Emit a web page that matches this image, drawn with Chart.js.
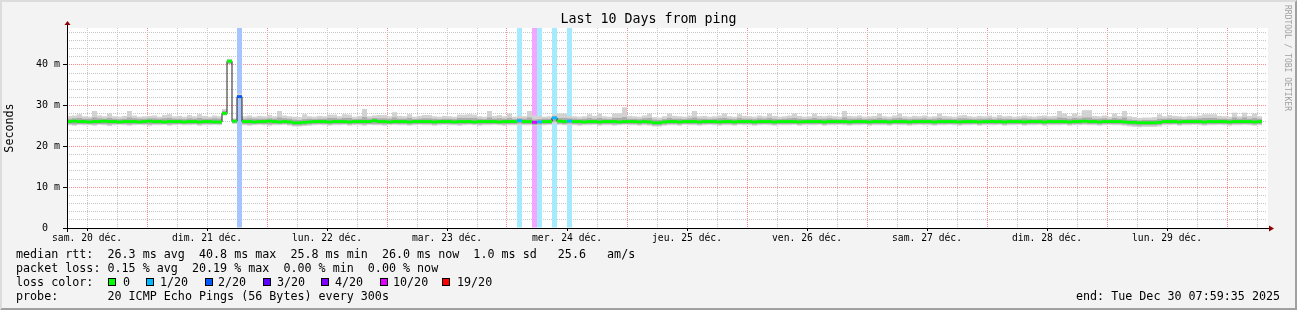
<!DOCTYPE html>
<html>
<head>
<meta charset="utf-8">
<script src="https://cdn.jsdelivr.net/npm/chart.js@4.4.1/dist/chart.umd.min.js"></script>
<style>
  html, body { margin:0; padding:0; background:#f3f3f3; }
  #wrap { position:relative; width:1297px; height:310px; overflow:hidden; }
  #bg { position:absolute; left:0; top:0; width:1297px; height:310px; box-sizing:border-box; background:#f3f3f3;
        border-top:2px solid #dcdcdc; border-left:2px solid #dcdcdc; border-right:2px solid #a0a0a0; border-bottom:2px solid #a0a0a0; }
  canvas { position:absolute; left:0; top:0; }
  .t { position:absolute; font-family:'DejaVu Sans Mono', monospace; font-size:11.7px; line-height:14px; white-space:pre; color:#000; }
  .box { position:absolute; width:6px; height:6px; border:1px solid #000; }
  #title { position:absolute; left:0; top:11px; width:1297px; text-align:center; font-family:'DejaVu Sans Mono', monospace; font-size:13.3px; line-height:16px; }
  #side { position:absolute; left:1282px; top:5px; writing-mode:vertical-rl; font-family:'DejaVu Sans Mono', monospace; font-size:8px; line-height:10px; color:#a0a0a0; white-space:pre; }
</style>
</head>
<body>
<div id="wrap">
  <div id="bg"></div>
  <canvas id="myChart" width="1297" height="310"></canvas>
  <div id="title">Last 10 Days from ping</div>
  <div id="side">RRDTOOL / TOBI OETIKER</div>
  <div id="legend"></div>
</div>
<script>
// hourly values, hour 0 = Sat 20 Dec 08:00, hour 239 = last (incomplete) hour
const median = [
  26.1,26.2,26.1,26.1,26.0,26.1,26.1,26.2,26.1,26.1,26.0,26.1,26.1,26.1,26.0,26.1,26.2,26.1,26.1,26.0,26.1,26.1,26.1,26.0,
  26.1,26.1,26.0,26.1,26.1,26.0,26.0,28.1,40.9,26.2,32.2,26.1,26.1,26.0,26.1,26.1,26.2,26.1,26.0,26.1,26.0,25.8,25.8,25.9,
  26.0,26.1,26.1,26.1,26.0,26.1,26.1,26.1,26.0,26.1,26.1,26.1,26.1,26.3,26.1,26.1,26.0,26.1,26.1,26.1,26.0,26.1,26.1,26.1,
  26.1,26.0,26.1,26.1,26.1,26.0,26.1,26.1,26.1,26.0,26.1,26.1,26.1,26.1,26.0,26.1,26.1,26.1,26.3,26.1,26.1,25.9,26.0,26.1,
  26.1,27.0,26.2,26.1,26.2,26.1,26.1,26.0,26.1,26.1,26.0,26.1,26.1,26.1,26.0,26.1,26.1,26.1,26.0,26.1,26.0,25.8,25.8,26.0,
  26.1,26.1,26.0,26.1,26.1,26.1,26.0,26.1,26.1,26.1,26.0,26.1,26.1,26.0,26.1,26.1,26.1,26.0,26.1,26.1,26.1,26.0,26.1,26.1,
  26.1,26.1,26.0,26.1,26.1,26.1,26.1,26.0,26.1,26.1,26.1,26.1,26.0,26.1,26.1,26.1,26.0,26.1,26.1,26.1,26.0,26.1,26.1,26.1,
  26.0,26.1,26.1,26.1,26.1,26.0,26.1,26.1,26.1,26.1,26.0,26.1,26.1,26.1,26.0,26.1,26.1,26.1,26.1,26.0,26.1,26.1,26.1,26.0,
  26.1,26.1,26.1,26.0,26.1,26.1,26.1,26.1,26.0,26.1,26.1,26.2,26.1,26.1,26.0,26.1,26.1,26.1,26.1,26.0,25.9,25.9,25.8,25.8,
  25.8,25.8,25.9,26.1,26.1,26.1,26.0,26.1,26.1,26.1,26.1,26.0,26.1,26.1,26.1,26.1,26.0,26.1,26.1,26.1,26.1,26.0,26.1,null
];
const smokeHi = [
  27.5,27.6,27.9,27.4,27.3,28.7,27.6,27.4,28.1,27.4,27.3,27.5,28.7,27.6,27.3,27.4,27.5,27.6,27.3,27.7,27.9,27.4,27.5,27.3,
  27.7,27.4,27.9,27.5,27.3,27.6,27.4,29.2,41.5,26.9,33.0,27.4,27.6,27.3,27.5,27.4,27.7,27.4,28.7,27.6,27.4,27.3,27.2,27.9,
  27.4,27.3,27.5,27.4,27.8,27.8,27.4,27.9,27.8,27.3,27.5,29.2,27.4,27.6,27.7,27.7,27.4,28.4,27.5,27.4,27.9,27.3,27.5,27.7,
  27.7,27.4,27.3,27.5,27.4,27.3,27.8,27.8,27.9,27.8,27.4,27.3,28.7,27.5,27.7,27.4,28.1,27.3,27.5,27.4,28.7,27.6,27.5,27.3,
  27.4,27.9,28.1,28.1,27.5,27.4,27.3,27.4,27.9,27.5,28.1,27.4,27.3,28.1,28.1,29.6,27.5,27.4,27.3,27.6,28.1,27.2,27.1,27.4,
  28.1,27.5,27.4,27.3,27.6,28.7,27.4,27.5,27.3,27.4,27.6,28.1,27.4,27.3,27.9,27.5,27.4,27.3,27.6,27.4,28.1,27.5,27.3,27.4,
  27.6,28.1,27.5,27.3,27.4,28.1,27.5,27.4,27.6,27.4,27.3,28.7,27.5,27.4,27.6,27.3,27.4,27.5,28.1,27.4,27.3,27.6,28.1,27.4,
  27.3,27.5,27.4,27.6,27.3,27.4,28.1,27.5,27.4,27.3,27.6,27.7,27.4,27.3,27.5,27.4,27.6,27.3,27.7,27.4,27.5,27.3,27.4,27.6,
  27.4,27.3,27.5,27.6,27.4,27.5,28.7,28.1,27.5,28.1,27.6,28.9,28.9,27.5,27.4,27.6,27.3,28.1,27.5,28.7,27.4,27.2,27.0,27.1,
  27.1,27.2,27.9,27.4,27.7,27.5,27.4,27.3,27.5,27.4,27.6,27.9,27.9,27.9,27.5,27.4,27.3,28.3,27.4,28.3,27.5,28.1,27.4,null
];
const smokeLo = [
  25.2,25.1,25.3,25.2,25.2,25.1,25.3,25.2,25.0,25.2,25.3,25.2,25.1,25.2,25.3,25.2,25.1,25.2,25.2,25.3,25.1,25.2,25.3,25.2,
  25.2,25.3,25.1,25.2,25.2,25.3,25.2,27.6,40.2,25.6,31.7,25.2,25.1,25.2,25.3,25.2,25.1,25.2,25.2,25.3,25.1,24.9,24.9,25.0,
  25.1,25.2,25.3,25.2,25.1,25.2,25.2,25.3,25.1,25.2,25.2,25.1,25.3,25.2,25.2,25.1,25.2,25.3,25.2,25.2,25.1,25.2,25.3,25.2,
  25.2,25.1,25.2,25.3,25.2,25.2,25.1,25.2,25.3,25.2,25.1,25.2,25.2,25.3,25.2,25.1,25.2,25.2,25.3,25.2,25.2,25.0,25.2,25.2,
  25.3,25.6,25.3,25.2,25.3,25.2,25.1,25.2,25.2,25.3,25.1,25.2,25.2,25.1,25.2,25.3,25.2,25.2,25.1,25.2,25.1,24.9,24.9,25.1,
  25.2,25.2,25.1,25.3,25.2,25.2,25.1,25.2,25.3,25.2,25.1,25.2,25.2,25.1,25.3,25.2,25.2,25.1,25.2,25.3,25.2,25.1,25.2,25.2,
  25.2,25.3,25.1,25.2,25.2,25.2,25.3,25.1,25.2,25.2,25.3,25.2,25.1,25.2,25.2,25.3,25.1,25.2,25.2,25.2,25.1,25.3,25.2,25.2,
  25.1,25.2,25.3,25.2,25.2,25.1,25.2,25.2,25.3,25.2,25.1,25.2,25.2,25.3,25.1,25.2,25.2,25.2,25.3,25.1,25.2,25.2,25.3,25.1,
  25.2,25.2,25.3,25.1,25.2,25.2,25.2,25.3,25.1,25.2,25.2,25.3,25.2,25.2,25.1,25.2,25.3,25.2,25.2,25.1,24.9,24.8,24.7,24.8,
  24.8,24.8,24.9,25.2,25.2,25.3,25.1,25.2,25.2,25.3,25.2,25.1,25.2,25.2,25.3,25.2,25.1,25.2,25.2,25.3,25.2,25.1,25.2,null
];
const smokeMidHi = [
  26.8,26.9,27.0,26.8,26.8,27.1,26.9,26.8,27.0,26.8,26.7,26.8,27.1,26.9,26.8,26.8,26.9,26.9,26.8,26.9,27.0,26.8,26.8,26.7,
  26.9,26.8,27.0,26.8,26.8,26.9,26.8,28.7,41.2,26.6,32.6,26.8,26.9,26.8,26.8,26.8,26.9,26.8,27.1,26.9,26.8,26.6,26.5,26.7,
  26.8,26.7,26.8,26.8,27.0,27.0,26.8,27.0,27.0,26.7,26.8,27.2,26.8,27.0,26.9,26.9,26.8,27.1,26.8,26.8,27.0,26.7,26.8,26.9,
  26.9,26.8,26.7,26.8,26.8,26.7,27.0,27.0,27.0,27.0,26.8,26.7,27.1,26.8,26.9,26.8,27.0,26.7,26.9,26.8,27.1,26.6,26.7,26.8,
  26.8,27.4,27.0,27.0,26.9,26.8,26.7,26.8,27.0,26.8,27.0,26.8,26.7,27.0,27.0,27.2,26.8,26.8,26.7,26.9,27.0,26.6,26.5,26.7,
  27.0,26.8,26.8,26.7,26.9,27.1,26.8,26.8,26.7,26.8,26.9,27.0,26.8,26.7,27.0,26.8,26.8,26.7,26.9,26.8,27.0,26.8,26.7,26.8,
  26.9,27.0,26.8,26.7,26.8,27.0,26.8,26.8,26.9,26.8,26.7,27.1,26.8,26.8,26.9,26.7,26.8,26.8,27.0,26.8,26.7,26.9,27.0,26.8,
  26.7,26.8,26.8,26.9,26.7,26.8,27.0,26.8,26.8,26.7,26.9,26.9,26.8,26.7,26.8,26.8,26.9,26.7,26.9,26.8,26.8,26.7,26.8,26.9,
  26.8,26.7,26.8,26.9,26.8,26.8,27.1,27.0,26.8,27.0,26.9,27.1,27.1,26.8,26.8,26.9,26.7,27.0,26.8,27.1,26.6,26.5,26.4,26.5,
  26.5,26.5,26.8,26.8,26.9,26.8,26.8,26.7,26.8,26.8,26.9,27.0,27.0,27.0,26.8,26.8,26.7,27.1,26.8,27.1,26.8,27.0,26.8,null
];
const smokeMidLo = [
  25.5,25.4,25.5,25.5,25.5,25.4,25.5,25.5,25.4,25.5,25.5,25.5,25.4,25.5,25.5,25.5,25.4,25.5,25.5,25.5,25.4,25.5,25.5,25.5,
  25.5,25.5,25.4,25.5,25.5,25.5,25.5,27.7,40.3,25.7,31.8,25.5,25.4,25.5,25.5,25.5,25.4,25.5,25.5,25.5,25.4,25.2,25.2,25.3,
  25.4,25.5,25.5,25.5,25.4,25.5,25.5,25.5,25.4,25.5,25.5,25.4,25.5,25.5,25.5,25.4,25.5,25.5,25.5,25.5,25.4,25.5,25.5,25.5,
  25.5,25.4,25.5,25.5,25.5,25.5,25.4,25.5,25.5,25.5,25.4,25.5,25.5,25.5,25.5,25.4,25.5,25.5,25.6,25.5,25.5,25.3,25.4,25.5,
  25.5,26.1,25.6,25.5,25.6,25.5,25.4,25.5,25.5,25.5,25.4,25.5,25.5,25.4,25.5,25.5,25.5,25.5,25.4,25.5,25.4,25.2,25.2,25.4,
  25.5,25.5,25.4,25.5,25.5,25.5,25.4,25.5,25.5,25.5,25.4,25.5,25.5,25.4,25.5,25.5,25.5,25.4,25.5,25.5,25.5,25.4,25.5,25.5,
  25.5,25.5,25.4,25.5,25.5,25.5,25.5,25.4,25.5,25.5,25.5,25.5,25.4,25.5,25.5,25.5,25.4,25.5,25.5,25.5,25.4,25.5,25.5,25.5,
  25.4,25.5,25.5,25.5,25.5,25.4,25.5,25.5,25.5,25.5,25.4,25.5,25.5,25.5,25.4,25.5,25.5,25.5,25.5,25.4,25.5,25.5,25.5,25.4,
  25.5,25.5,25.5,25.4,25.5,25.5,25.5,25.5,25.4,25.5,25.5,25.6,25.5,25.5,25.4,25.5,25.5,25.5,25.5,25.4,25.3,25.2,25.1,25.2,
  25.2,25.2,25.3,25.5,25.5,25.5,25.4,25.5,25.5,25.5,25.5,25.4,25.5,25.5,25.5,25.5,25.4,25.5,25.5,25.5,25.5,25.4,25.5,null
];

// hours with packet loss, and how many of the 20 pings were lost
const lossHours  = [34, 90, 93, 94, 97, 100];
const lossCounts = [2, 1, 10, 1, 1, 1];

const dayLabels = ['sam. 20 déc.', 'dim. 21 déc.', 'lun. 22 déc.', 'mar. 23 déc.', 'mer. 24 déc.',
                   'jeu. 25 déc.', 'ven. 26 déc.', 'sam. 27 déc.', 'dim. 28 déc.', 'lun. 29 déc.'];
const yLabelValues = [0, 10, 20, 30, 40];

const lossLegend = ['0', '1/20', '2/20', '3/20', '4/20', '10/20', '19/20'];
const lossColors = ['#00ff00', '#00b8ff', '#0059ff', '#5e00ff', '#7e00ff', '#dd00ff', '#ff0000'];
const lossBgColors = ['#ffffff', '#a6eaff', '#a6c5ff', '#c7a6ff', '#d4a6ff', '#f3a6ff', '#ffa6a6'];
const lossSteps = [0, 1, 2, 3, 4, 10, 19];

const rttLine   = 'median rtt:  26.3 ms avg  40.8 ms max  25.8 ms min  26.0 ms now  1.0 ms sd   25.6   am/s';
const lossLine  = 'packet loss: 0.15 % avg  20.19 % max  0.00 % min  0.00 % now';
const probeLine = 'probe:       20 ICMP Echo Pings (56 Bytes) every 300s';
const endText   = 'end: Tue Dec 30 07:59:35 2025';

const yMax = 49.05;
const FONT = "'DejaVu Sans Mono', monospace";

function lossLevel(n) {
    let k = 0;
    for (let i = 0; i < lossSteps.length; i++) if (n >= lossSteps[i]) k = i;
    return k;
}
const lossAt = {};
lossHours.forEach((h, i) => { lossAt[h] = lossCounts[i]; });

const band = (lo, hi) => lo.map((v, i) => v == null ? null : { x: i + 0.5, y: [v, hi[i]] }).filter(p => p);

const tickHours = [];
for (let h = 4; h < 240; h += 6) tickHours.push(h);
const isMidnight = v => Math.round(v - 16) % 24 === 0;
const isNoon = v => Math.round(v - 4) % 24 === 0;

const barCommon = { type: 'bar', grouped: false, barPercentage: 1, categoryPercentage: 1, borderWidth: 0, inflateAmount: 0 };

const MAJOR = '#ff8c8c';
const MINOR = '#c6c6c6';

const bgPlugin = {
    id: 'plotBg',
    beforeDraw(chart) {
        const { ctx, chartArea: a } = chart;
        ctx.save();
        ctx.fillStyle = '#ffffff';
        ctx.fillRect(a.left, a.top, a.right - a.left + 1, a.bottom - a.top);
        ctx.restore();
    },
    afterDatasetsDraw(chart) {
        const { ctx, chartArea: a } = chart;
        ctx.save();
        ctx.fillStyle = '#000000';
        ctx.fillRect(a.left, a.top - 4, 1, a.bottom - a.top + 8);
        ctx.fillRect(a.left - 3, a.bottom, a.right - a.left + 6, 1);
        ctx.fillStyle = '#900000';
        ctx.beginPath();
        ctx.moveTo(a.left - 2.5, a.top - 3);
        ctx.lineTo(a.left + 3.5, a.top - 3);
        ctx.lineTo(a.left + 0.5, a.top - 7);
        ctx.closePath();
        ctx.fill();
        ctx.beginPath();
        ctx.moveTo(a.right + 2, a.bottom - 2.5);
        ctx.lineTo(a.right + 2, a.bottom + 3.5);
        ctx.lineTo(a.right + 7, a.bottom + 0.5);
        ctx.closePath();
        ctx.fill();
        ctx.restore();
    }
};

new Chart(document.getElementById('myChart'), {
    type: 'bar',
    data: {
        datasets: [
            Object.assign({}, barCommon, {
                data: lossHours.map(h => ({ x: h + 0.5, y: [0, yMax] })),
                backgroundColor: lossCounts.map(n => lossBgColors[lossLevel(n)]),
                order: 6
            }),
            Object.assign({}, barCommon, {
                data: band(smokeLo, smokeHi),
                backgroundColor: '#d2d2d2',
                order: 5
            }),
            Object.assign({}, barCommon, {
                data: band(smokeMidLo, smokeMidHi),
                backgroundColor: '#ababab',
                order: 4
            }),
            {
                type: 'line',
                data: median.map((v, i) => ({ x: i + 0.5, y: v })),
                stepped: 'middle',
                borderColor: '#202020',
                borderWidth: 1,
                pointRadius: 0,
                spanGaps: false,
                order: 3
            },
            Object.assign({}, barCommon, {
                data: median.map((v, i) => v == null ? null : { x: i + 0.5, y: [v - 0.34, v + 0.36] }).filter(p => p),
                backgroundColor: ctx => lossColors[lossLevel(lossAt[Math.floor(ctx.raw ? ctx.raw.x : 0)] || 0)],
                order: 2
            })
        ]
    },
    options: {
        responsive: false,
        animation: false,
        devicePixelRatio: 1,
        layout: { padding: { top: 28, right: 30, left: 0, bottom: 0 } },
        plugins: { legend: { display: false }, tooltip: { enabled: false } },
        scales: {
            x: {
                type: 'linear',
                min: 0,
                max: 240,
                offset: false,
                afterBuildTicks: s => { s.ticks = tickHours.map(v => ({ value: v })); },
                afterFit: s => { s.height = 82; },
                grid: {
                    offset: false,
                    color: c => (c.tick && isMidnight(c.tick.value) ? MAJOR : MINOR),
                    tickLength: 3,
                    tickColor: c => (c.tick && isNoon(c.tick.value) ? '#000000' : 'rgba(0,0,0,0)')
                },
                border: { display: false, dash: [1, 1] },
                ticks: {
                    autoSkip: false,
                    maxRotation: 0,
                    minRotation: 0,
                    padding: 2,
                    color: '#000000',
                    font: { family: FONT, size: 9.7 },
                    callback: v => (isNoon(v) ? dayLabels[Math.round(v - 4) / 24] : '')
                }
            },
            y: {
                min: 0,
                max: yMax,
                afterBuildTicks: s => {
                    const t = [];
                    for (let v = 0; v <= 48; v += 2) t.push({ value: v });
                    s.ticks = t;
                },
                afterFit: s => { s.width = 67; },
                grid: {
                    color: c => (c.tick && c.tick.value % 10 === 0 ? MAJOR : MINOR),
                    tickLength: 4,
                    tickColor: c => (c.tick && c.tick.value % 10 === 0 ? '#000000' : 'rgba(0,0,0,0)')
                },
                border: { display: false, dash: [1, 1] },
                ticks: {
                    autoSkip: false,
                    padding: 3,
                    color: '#000000',
                    font: { family: FONT, size: 10 },
                    callback: v => (yLabelValues.includes(v) ? (v === 0 ? '0  ' : v + ' m') : '')
                },
                title: {
                    display: true,
                    text: 'Seconds',
                    color: '#000000',
                    font: { family: FONT, size: 11.7 },
                    padding: { top: 3, bottom: 0 }
                }
            }
        }
    },
    plugins: [bgPlugin]
});

// text legend under the graph
const legend = document.getElementById('legend');
function put(x, yc, text) {
    const d = document.createElement('div');
    d.className = 't';
    d.style.left = x + 'px';
    d.style.top = (yc - 7) + 'px';
    d.textContent = text;
    legend.appendChild(d);
    return d;
}
put(16, 254, rttLine);
put(16, 268, lossLine);
put(16, 282, 'loss color:');
const boxX = [108, 146, 205, 263, 321, 380, 442];
const labX = [123, 160, 218, 277, 335, 393, 457];
lossLegend.forEach((lab, i) => {
    const b = document.createElement('div');
    b.className = 'box';
    b.style.left = boxX[i] + 'px';
    b.style.top = '278px';
    b.style.background = lossColors[i];
    legend.appendChild(b);
    put(labX[i], 282, lab);
});
put(16, 296, probeLine);
const e = put(0, 296, endText);
e.style.left = (1280 - e.offsetWidth) + 'px';
</script>
</body>
</html>
